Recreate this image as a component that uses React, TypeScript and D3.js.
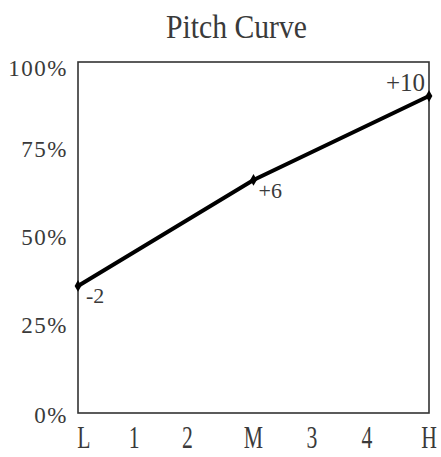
import React from 'react';
import * as d3 from 'd3';

const title = 'Pitch Curve';
const yTicks = [0, 25, 50, 75, 100];
const xLabels = ['L', '1', '2', 'M', '3', '4', 'H'];
const xTickPos = [0, 0.96, 1.87, 3, 4.0, 4.94, 6];
const pointX = [0, 3, 6];
const pointY = [36.2, 66.4, 90.3];
const pointLabels = ['-2', '+6', '+10'];

const W = 441, H = 457;
const M = { left: 78, right: 429, top: 62, bottom: 413 };
const FONT = '"Liberation Serif", "Times New Roman", serif';

export default function App() {
  const x = d3.scaleLinear().domain([0, 6]).range([M.left, M.right]);
  const y = d3.scaleLinear().domain([0, 100]).range([M.bottom, M.top]);
  const pts = pointX.map((px, i) => [x(px), y(pointY[i])] as [number, number]);
  const line = d3.line()(pts) || '';
  const labelOffsets: [number, number, string][] = [
    [8, 10, 'start'],
    [5, 11, 'start'],
    [-4, -14, 'end'],
  ];
  return (
    <svg width={W} height={H} style={{ position: 'absolute', left: 0, top: 0, background: '#fff' }}>
      <rect x={0} y={0} width={W} height={H} fill="#fff" />
      <text x={236.5} y={38} fontFamily={FONT} fontSize={33} textAnchor="middle" fill="#3a3a3a"
        textLength={141} lengthAdjust="spacingAndGlyphs">{title}</text>
      <rect x={M.left} y={M.top} width={M.right - M.left} height={M.bottom - M.top}
        fill="none" stroke="#333" strokeWidth={1.6} />
      {yTicks.map((t, i) => (
        <text key={t} x={68} y={y(t) + (i === 4 ? 6 : i === 0 ? 2 : 0)} fontFamily={FONT} fontSize={23}
          textAnchor="end" dominantBaseline="central" fill="#3a3a3a" letterSpacing={1.5}>{t + '%'}</text>
      ))}
      {xLabels.map((l, i) => (
        <text key={l} transform={`translate(${x(xTickPos[i]) + (i === 0 ? 6 : 0)},${448}) scale(0.7,1)`}
          fontFamily={FONT} fontSize={31} textAnchor="middle" fill="#3a3a3a">{l}</text>
      ))}
      <path d={line} fill="none" stroke="#000" strokeWidth={4} />
      {pts.map((p, i) => (
        <g key={i}>
          <path d={d3.symbol(d3.symbolDiamond, 40)() || ''} transform={`translate(${p[0]},${p[1]})`} fill="#000" />
          <text x={p[0] + labelOffsets[i][0]} y={p[1] + labelOffsets[i][1]} fontFamily={FONT}
            fontSize={i === 2 ? 25 : 22} textAnchor={labelOffsets[i][2]} dominantBaseline="central" fill="#3a3a3a">
            {pointLabels[i]}
          </text>
        </g>
      ))}
    </svg>
  );
}
